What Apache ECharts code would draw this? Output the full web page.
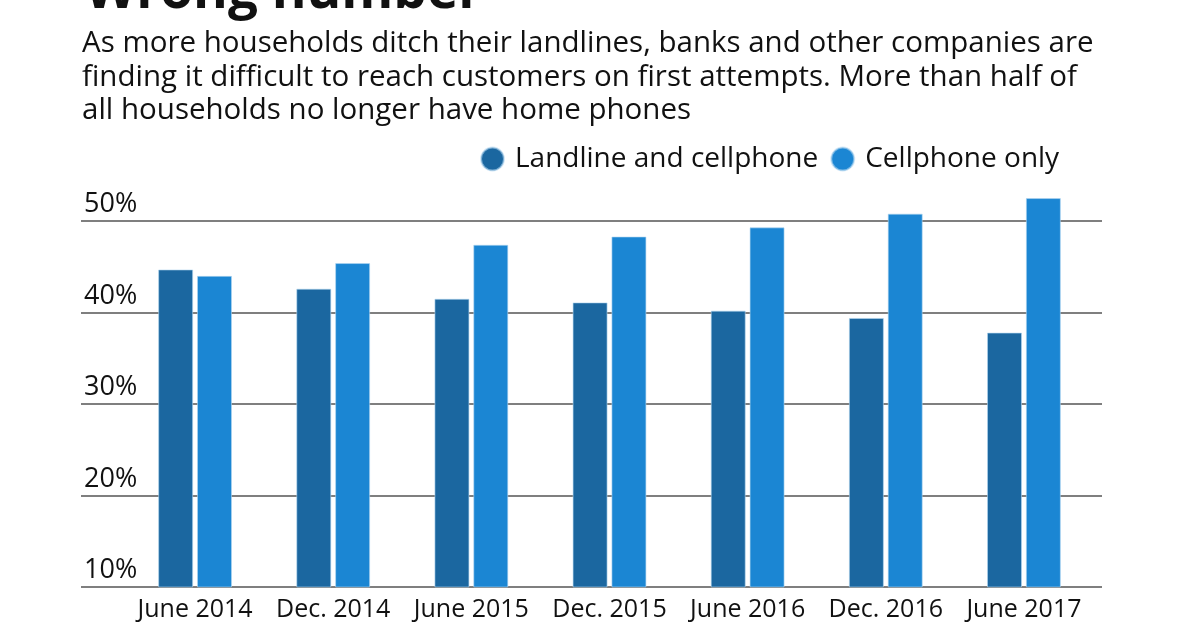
<!DOCTYPE html>
<html>
<head>
<meta charset="utf-8">
<script src="https://cdn.jsdelivr.net/npm/echarts@6/dist/echarts.min.js"></script>
<style>
html,body{margin:0;padding:0;background:#fff;}
#c{width:1200px;height:630px;}
</style>
</head>
<body>
<div id="c"></div>
<script>
const titleText = 'Wrong number';
const subtitleLines = [
  'As more households ditch their landlines, banks and other companies are',
  'finding it difficult to reach customers on first attempts. More than half of',
  'all households no longer have home phones'
];
const categories = ['June 2014','Dec. 2014','June 2015','Dec. 2015','June 2016','Dec. 2016','June 2017'];
const seriesNames = ['Landline and cellphone','Cellphone only'];
const landlineAndCell = [44.7, 42.6, 41.5, 41.1, 40.2, 39.4, 37.8];
const cellOnly = [44.0, 45.4, 47.4, 48.3, 49.3, 50.8, 52.5];
const yTicks = [10, 20, 30, 40, 50];

const FONT = '"Open Sans", "Noto Sans", sans-serif';
const DARK = '#1b67a0';
const LIGHT = '#1b86d3';

const chart = echarts.init(document.getElementById('c'), null, {renderer:'canvas'});
chart.setOption({
  animation: false,
  backgroundColor: '#fff',
  textStyle: {fontFamily: FONT},
  graphic: [
    {type:'text', left: 85, top: -34, style:{text: titleText, font: 'bold 53px ' + FONT, fill:'#111'}},
    {type:'text', left: 82, top: 27, style:{text: subtitleLines.join('\n'), font: '29.5px ' + FONT, lineHeight: 33.5, fill:'#111'}}
  ],
  legend: {
    data: seriesNames,
    left: 475, top: 140,
    icon: 'circle', itemWidth: 23, itemHeight: 23, itemGap: 12,
    textStyle: {fontSize: 28, color:'#111', fontFamily: FONT, padding:[0,0,0,6]}
  },
  grid: [
    {left: 81, right: 98, top: 221, bottom: 43},
    {left: 126, right: 107, top: 175.2, bottom: 43}
  ],
  xAxis: [
    {gridIndex:0, type:'value', min:0, max:1, show:false},
    {gridIndex:1, type:'category', data: categories,
     axisLine:{show:false}, axisTick:{show:false},
     axisLabel:{interval: 0, fontSize: 25, color:'#111', margin: 10, fontFamily: FONT}}
  ],
  yAxis: [
    {gridIndex:0, type:'value', min: yTicks[0], max: yTicks[yTicks.length-1], interval: 10,
     axisLine:{show:false}, axisTick:{show:false},
     splitLine:{show:true, lineStyle:{color:'#555', width:1.5}},
     axisLabel:{inside:true, verticalAlign:'bottom', margin: 3, padding:[0,0,3,0],
       fontSize: 27, color:'#111', fontFamily: FONT, formatter: v => v + '%'}},
    {gridIndex:1, type:'value', min: 10, max: 55, show:false}
  ],
  series: [
    {name: seriesNames[0], type:'bar', xAxisIndex:1, yAxisIndex:1, data: landlineAndCell,
     barWidth: 35, barGap: '11%',
     itemStyle:{color: DARK, borderColor:'rgba(180,215,240,0.6)', borderWidth:1}},
    {name: seriesNames[1], type:'bar', xAxisIndex:1, yAxisIndex:1, data: cellOnly,
     barWidth: 35, barGap: '11%',
     itemStyle:{color: LIGHT, borderColor:'rgba(180,215,240,0.6)', borderWidth:1}}
  ]
});
</script>
</body>
</html>
